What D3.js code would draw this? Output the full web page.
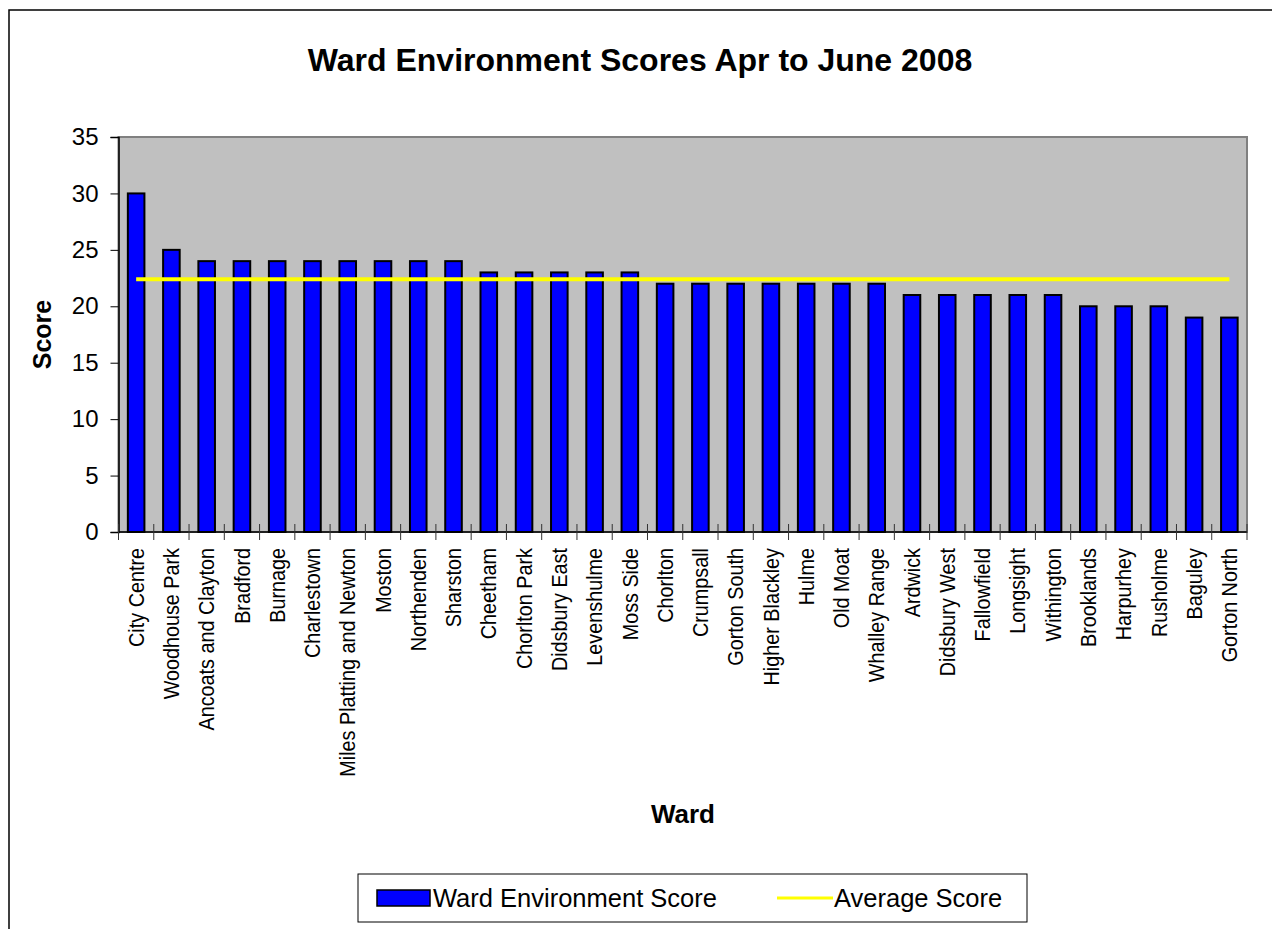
<!DOCTYPE html>
<html>
<head>
<meta charset="utf-8">
<script src="https://cdn.jsdelivr.net/npm/d3@7"></script>
<style>
  body { margin: 0; background: #fff; }
  text { font-family: "Liberation Sans", Arial, sans-serif; }
</style>
</head>
<body>
<svg id="chart" width="1272" height="929"></svg>
<script>
// Chart data
const wards = ['City Centre', 'Woodhouse Park', 'Ancoats and Clayton', 'Bradford', 'Burnage',
  'Charlestown', 'Miles Platting and Newton', 'Moston', 'Northenden', 'Sharston', 'Cheetham',
  'Chorlton Park', 'Didsbury East', 'Levenshulme', 'Moss Side', 'Chorlton', 'Crumpsall',
  'Gorton South', 'Higher Blackley', 'Hulme', 'Old Moat', 'Whalley Range', 'Ardwick',
  'Didsbury West', 'Fallowfield', 'Longsight', 'Withington', 'Brooklands', 'Harpurhey',
  'Rusholme', 'Baguley', 'Gorton North'];
const scores = [30, 25, 24, 24, 24, 24, 24, 24, 24, 24, 23, 23, 23, 23, 23, 22, 22, 22, 22, 22,
  22, 22, 21, 21, 21, 21, 21, 20, 20, 20, 19, 19];
const averageScore = 22.4;
const yTicks = [0, 5, 10, 15, 20, 25, 30, 35];

const titleText = 'Ward Environment Scores Apr to June 2008';
const seriesNames = ['Ward Environment Score', 'Average Score'];

/*******************************************************************************
 * Layout
 *******************************************************************************/
const plot = {left: 118.5, top: 137, right: 1247, bottom: 532};

let svg = d3.select('#chart');

// Outer chart frame (runs past the right and bottom edges)
svg.append('rect')
  .attr('x', 9).attr('y', 10)
  .attr('width', 1400).attr('height', 1000)
  .attr('fill', '#fff')
  .attr('stroke', '#000')
  .attr('stroke-width', 1.5);

svg.append('text')
  .attr('x', 640).attr('y', 71)
  .attr('text-anchor', 'middle')
  .attr('font-size', 32)
  .attr('font-weight', 'bold')
  .text(titleText);

let x = d3.scaleBand()
  .domain(wards)
  .range([plot.left, plot.right])
  .padding(0);

let y = d3.scaleLinear()
  .domain([0, 35])
  .range([plot.bottom, plot.top]);

// Plot area background
svg.append('rect')
  .attr('x', plot.left).attr('y', plot.top)
  .attr('width', plot.right - plot.left)
  .attr('height', plot.bottom - plot.top)
  .attr('fill', '#c0c0c0')
  .attr('stroke', '#808080')
  .attr('stroke-width', 2);

// Bars
const barW = x.bandwidth() * 0.47;
svg.append('g')
  .selectAll('rect')
  .data(wards)
  .enter().append('rect')
  .attr('x', d => x(d) + (x.bandwidth() - barW) / 2)
  .attr('y', (d, i) => y(scores[i]))
  .attr('width', barW)
  .attr('height', (d, i) => y(0) - y(scores[i]))
  .attr('fill', '#0000ff')
  .attr('stroke', '#000')
  .attr('stroke-width', 2);

// Average line
let avgLine = d3.line()
  .x(d => x(d) + x.bandwidth() / 2)
  .y(() => y(averageScore));

svg.append('path')
  .datum(wards)
  .attr('d', avgLine)
  .attr('fill', 'none')
  .attr('stroke', '#ffff00')
  .attr('stroke-width', 4);

// Y axis
let yAxis = svg.append('g')
  .attr('transform', `translate(${plot.left},0)`)
  .call(d3.axisLeft(y).tickValues(yTicks).tickSize(8).tickPadding(12));
yAxis.select('.domain').attr('stroke', '#000').attr('stroke-width', 1.5);
yAxis.selectAll('.tick line').attr('x1', -8).attr('x2', 0).attr('stroke', '#000');
yAxis.selectAll('.tick text')
  .attr('font-size', 24)
  .attr('fill', '#000')
  .attr('font-family', '"Liberation Sans", Arial, sans-serif');

// X axis: ticks sit on category boundaries and cross the axis line
let xAxis = svg.append('g')
  .attr('transform', `translate(0,${plot.bottom})`);
xAxis.append('line')
  .attr('x1', plot.left).attr('x2', plot.right)
  .attr('stroke', '#000').attr('stroke-width', 1.5);
xAxis.selectAll('line.tick')
  .data(wards.concat(['_end']))
  .enter().append('line')
  .attr('class', 'tick')
  .attr('x1', d => d === '_end' ? plot.right : x(d))
  .attr('x2', d => d === '_end' ? plot.right : x(d))
  .attr('y1', -8).attr('y2', 8)
  .attr('stroke', '#333');
// labels are slightly condensed along their length in the original
xAxis.selectAll('text')
  .data(wards)
  .enter().append('text')
  .attr('transform', d => `translate(${x(d) + x.bandwidth() / 2},16) rotate(-90) scale(0.9,1)`)
  .attr('text-anchor', 'end')
  .attr('dy', '0.35em')
  .attr('font-size', 22)
  .text(d => d);

// Axis titles
svg.append('text')
  .attr('x', 683).attr('y', 823)
  .attr('text-anchor', 'middle')
  .attr('font-size', 26)
  .attr('font-weight', 'bold')
  .text('Ward');

svg.append('text')
  .attr('transform', `translate(51,${(plot.top + plot.bottom) / 2}) rotate(-90)`)
  .attr('text-anchor', 'middle')
  .attr('font-size', 25)
  .attr('font-weight', 'bold')
  .text('Score');

/*******************************************************************************
 * Legend
 *******************************************************************************/
let legend = svg.append('g');
legend.append('rect')
  .attr('x', 358).attr('y', 874)
  .attr('width', 669).attr('height', 48)
  .attr('fill', '#fff')
  .attr('stroke', '#000')
  .attr('stroke-width', 1);
legend.append('rect')
  .attr('x', 377).attr('y', 890)
  .attr('width', 53).attr('height', 16)
  .attr('fill', '#0000ff')
  .attr('stroke', '#000')
  .attr('stroke-width', 1.5);
legend.append('text')
  .attr('x', 433).attr('y', 907)
  .attr('font-size', 25.5)
  .text(seriesNames[0]);
legend.append('line')
  .attr('x1', 777).attr('x2', 833)
  .attr('y1', 898).attr('y2', 898)
  .attr('stroke', '#ffff00')
  .attr('stroke-width', 3);
legend.append('text')
  .attr('x', 834).attr('y', 907)
  .attr('font-size', 25.5)
  .text(seriesNames[1]);
</script>
</body>
</html>
